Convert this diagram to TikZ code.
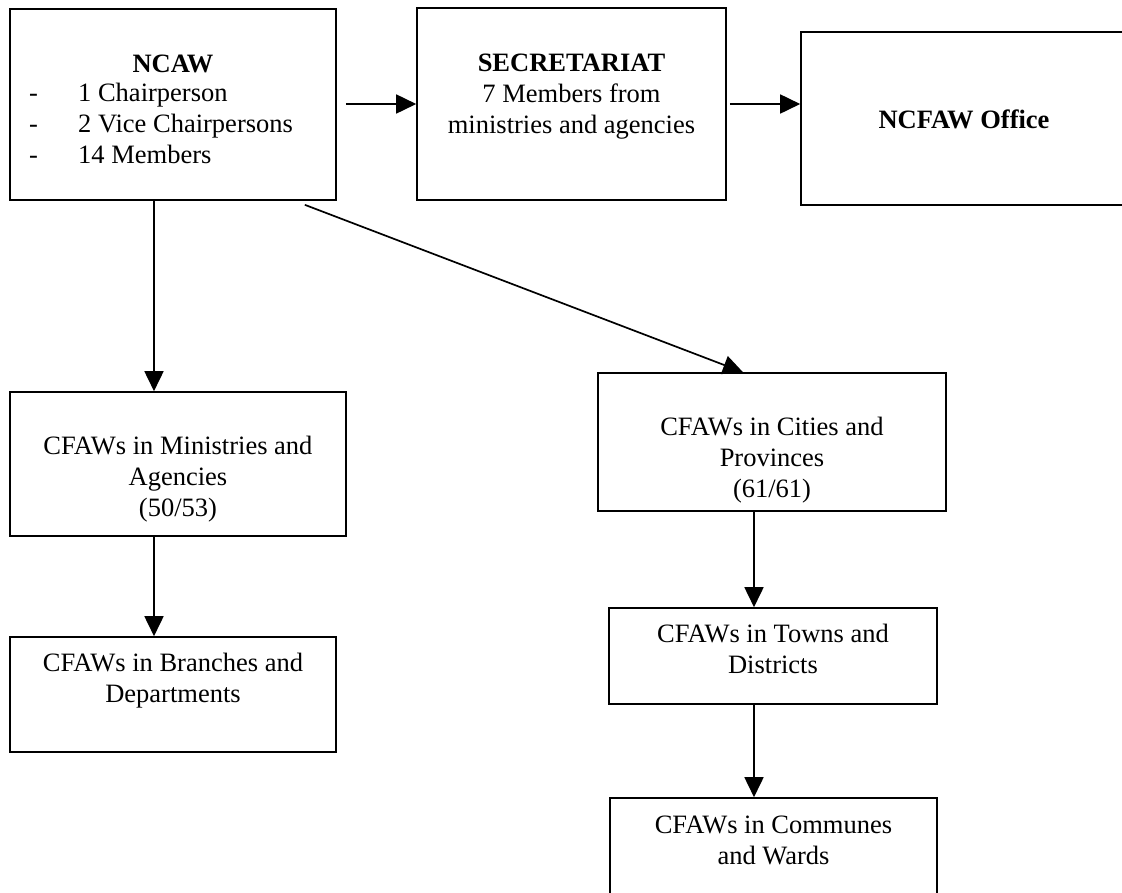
\documentclass[tikz,border=0pt]{standalone}
\usepackage{fontspec}
\setmainfont{Liberation Serif}
\usetikzlibrary{arrows.meta,calc}
\begin{document}
\begin{tikzpicture}[x=1pt,y=-1pt,
  box/.style={draw, line width=1.6pt, inner sep=0pt, rectangle},
  txt/.style={font=\fontsize{26.5}{31}\selectfont, align=center, inner sep=0pt, anchor=base},
  arr/.style={line width=1.7pt, -{Triangle[length=20pt,width=19pt]}}]
\useasboundingbox (0,0) rectangle (1122,892);
\clip (0,0) rectangle (1122,892);
% boxes
\node[box, minimum width=326pt, minimum height=191pt] (ncaw) at (173,104.5) {};
\node[box, minimum width=309pt, minimum height=192pt] (sec) at (571.5,104) {};
\node[box, minimum width=326pt, minimum height=173pt] (office) at (964,118.5) {};
\node[box, minimum width=336pt, minimum height=144pt] (min) at (178,464) {};
\node[box, minimum width=326pt, minimum height=115pt] (branch) at (173,694.5) {};
\node[box, minimum width=348pt, minimum height=138pt] (cities) at (772,442) {};
\node[box, minimum width=328pt, minimum height=96pt] (towns) at (773,656) {};
\node[box, minimum width=327pt, minimum height=122pt] (communes) at (773.5,859) {};
% texts (anchor base = baseline of the last line)
\node[txt] (ncawT) at (173,72) {\textbf{NCAW}};
\node[txt, align=left, anchor=base west] (ncawL) at (29,163)
  {\makebox[49pt][l]{-}1 Chairperson\\\makebox[49pt][l]{-}2 Vice Chairpersons\\\makebox[49pt][l]{-}14 Members};
\node[txt] (secT) at (571.5,133) {\textbf{SECRETARIAT}\\7 Members from\\ministries and agencies};
\node[txt] (officeT) at (964,128) {\textbf{NCFAW Office}};
\node[txt] (minT) at (178,516) {CFAWs in Ministries and\\Agencies\\(50/53)};
\node[txt] (branchT) at (173,702) {CFAWs in Branches and\\Departments};
\node[txt] (citiesT) at (772,497) {CFAWs in Cities and\\Provinces\\(61/61)};
\node[txt] (townsT) at (773,673) {CFAWs in Towns and\\Districts};
\node[txt] (communesT) at (773.5,864) {CFAWs in Communes\\and Wards};
% connectors
\coordinate (b1) at ($(ncaw.east)+(9,0)$);
\draw[arr] (b1 |- sec.west) -- (sec.west);
\draw[arr] ($(sec.east)+(3,0)$) -- (sec.east -| office.west);
\coordinate (a1) at ($(ncaw.south)+(-19,0)$);
\draw[arr] (a1) -- (a1 |- min.north);
\coordinate (a2) at ($(min.south)+(-24,0)$);
\draw[arr] (a2) -- (a2 |- branch.north);
\coordinate (a3) at ($(cities.south)+(-18,0)$);
\draw[arr] (a3) -- (a3 |- towns.north);
\coordinate (a4) at ($(towns.south)+(-19,0)$);
\draw[arr] (a4) -- (a4 |- communes.north);
\coordinate (d1) at ($(ncaw.south east)+(-32,4)$);
\coordinate (d2) at ($(cities.north)+(-29,0)$);
\draw[arr] (d1) -- (d2);
\end{tikzpicture}
\end{document}
